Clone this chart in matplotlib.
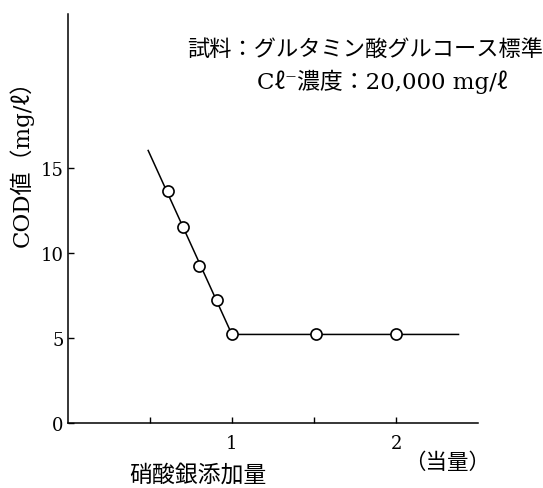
import matplotlib
matplotlib.use('Agg')
import matplotlib.pyplot as plt

plt.rcParams['font.family'] = ['DejaVu Serif', 'Noto Sans CJK JP']

# measured points (silver nitrate equivalents vs COD)
x_pts = [0.61, 0.70, 0.80, 0.91, 1.0, 1.51, 2.0]
y_pts = [13.6, 11.5, 9.2, 7.2, 5.2, 5.2, 5.2]

# drawn trend line
line_x = [0.49, 1.0, 2.38]
line_y = [16.0, 5.2, 5.2]

x_ticks = [0.5, 1, 1.5, 2]
x_labels = ['', '1', '', '2']
y_ticks = [0, 5, 10, 15]
y_labels = ['0', '5', '10', '15']

fig = plt.figure(figsize=(5.43, 4.89), dpi=100)
ax = fig.add_axes([0.1247, 0.1329, 0.756, 0.836])

ax.plot(line_x, line_y, '-', color='black', linewidth=1.1)
ax.plot(x_pts, y_pts, 'o', markersize=8, markerfacecolor='white',
        markeredgecolor='black', markeredgewidth=1.2)

ax.set_xlim(0, 2.5)
ax.set_ylim(0, 24)
ax.spines['top'].set_visible(False)
ax.spines['right'].set_visible(False)
ax.spines['left'].set_linewidth(1.1)
ax.spines['bottom'].set_linewidth(1.1)

ax.set_xticks(x_ticks)
ax.set_xticklabels(x_labels, fontsize=13)
ax.set_yticks(y_ticks)
ax.set_yticklabels(y_labels, fontsize=13)
ax.tick_params(axis='both', direction='in', length=4, width=1)
ax.tick_params(axis='x', pad=8)
ax.tick_params(axis='y', pad=3)

ax.set_ylabel('COD値（mg/ℓ）', fontsize=16.5)
ax.yaxis.set_label_coords(-0.082, 0.65)

fig.text(187/543, 1 - 50/489, '試料：グルタミン酸グルコース標準', fontsize=16,
         ha='left', va='center')
fig.text(257/543, 1 - 82/489, 'Cℓ⁻濃度：20,000 mg/ℓ', fontsize=16.5,
         ha='left', va='center')

fig.text(447/543, 1 - 463/489, '（当量）', fontsize=15.5, ha='center', va='center')
fig.text(198/543, 1 - 476/489, '硝酸銀添加量', fontsize=16.5, ha='center', va='center')

fig.savefig('out.png', dpi=100)
